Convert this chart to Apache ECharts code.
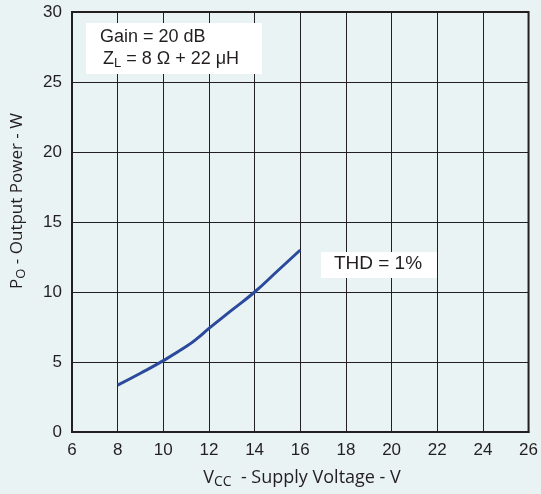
<!DOCTYPE html>
<html><head><meta charset="utf-8">
<script src="https://cdn.jsdelivr.net/npm/echarts@6/dist/echarts.min.js"></script>
<style>html,body{margin:0;padding:0;background:#e9f3f4}#c{width:541px;height:494px}</style>
</head><body><div id="c"></div>
<script>
const supplyVoltage = [8, 9, 10, 11, 11.5, 12, 13, 14, 15, 16];
const outputPower = [3.35, 4.2, 5.1, 6.1, 6.7, 7.4, 8.7, 10.0, 11.5, 13.0];
const xTicks = [6, 8, 10, 12, 14, 16, 18, 20, 22, 24, 26];
const yTicks = [0, 5, 10, 15, 20, 25, 30];

const ink = '#231f20';
const chart = echarts.init(document.getElementById('c'), null, {renderer: 'canvas'});
chart.setOption({
  backgroundColor: '#e9f3f4',
  animation: false,
  grid: {left: 72, top: 12, right: 11, bottom: 62, show: true, borderColor: ink, borderWidth: 2, backgroundColor: 'transparent'},
  xAxis: {
    type: 'value', min: xTicks[0], max: xTicks[xTicks.length - 1], interval: 2,
    axisLine: {show: true, lineStyle: {color: ink, width: 2}},
    axisTick: {show: false},
    splitLine: {show: true, lineStyle: {color: ink, width: 1}},
    axisLabel: {color: ink, fontFamily: 'Liberation Sans', fontSize: 17, margin: 10}
  },
  yAxis: {
    type: 'value', min: yTicks[0], max: yTicks[yTicks.length - 1], interval: 5,
    axisLine: {show: true, lineStyle: {color: ink, width: 2}},
    axisTick: {show: false},
    splitLine: {show: true, lineStyle: {color: ink, width: 1}},
    axisLabel: {color: ink, fontFamily: 'Liberation Sans', fontSize: 17, margin: 10}
  },
  series: [{
    type: 'line', smooth: true, symbol: 'none',
    data: supplyVoltage.map((v, i) => [v, outputPower[i]]),
    lineStyle: {color: '#2b4a9c', width: 3}
  }],
  graphic: [
    {type: 'rect', shape: {x: 86, y: 23, width: 176, height: 51}, style: {fill: '#ffffff'}, z: 10},
    {type: 'text', x: 100, y: 37, style: {text: 'Gain = 20 dB', fill: ink, font: '18px "Liberation Sans"', verticalAlign: 'middle'}, z: 11},
    {type: 'text', x: 103, y: 59, style: {
      text: 'Z{s|L} = 8 Ω + 22 μH', fill: ink, font: '18px "Liberation Sans"', verticalAlign: 'middle',
      rich: {s: {fontSize: 13, fontFamily: 'Liberation Sans', fill: ink, padding: [8, 0, 0, 0]}}
    }, z: 11},
    {type: 'rect', shape: {x: 321, y: 252, width: 116, height: 26}, style: {fill: '#ffffff'}, z: 10},
    {type: 'text', x: 378, y: 264, style: {text: 'THD = 1%', fill: ink, font: '19px "Liberation Sans"', align: 'center', verticalAlign: 'middle'}, z: 11},
    {type: 'text', x: 302, y: 478, style: {
      text: 'V{s|CC}  - Supply Voltage - V', fill: ink, font: '18px "Open Sans"', align: 'center', verticalAlign: 'middle',
      rich: {s: {fontSize: 14, fontFamily: 'Open Sans', fill: ink, padding: [8, 0, 0, 0]}}
    }},
    {type: 'text', x: 17, y: 201, rotation: Math.PI / 2, style: {
      text: 'P{s|O} - Output Power - W', fill: ink, font: '17px "Open Sans"', align: 'center', verticalAlign: 'middle',
      rich: {s: {fontSize: 13, fontFamily: 'Open Sans', fill: ink, padding: [8, 0, 0, 0]}}
    }}
  ]
});
</script></body></html>
